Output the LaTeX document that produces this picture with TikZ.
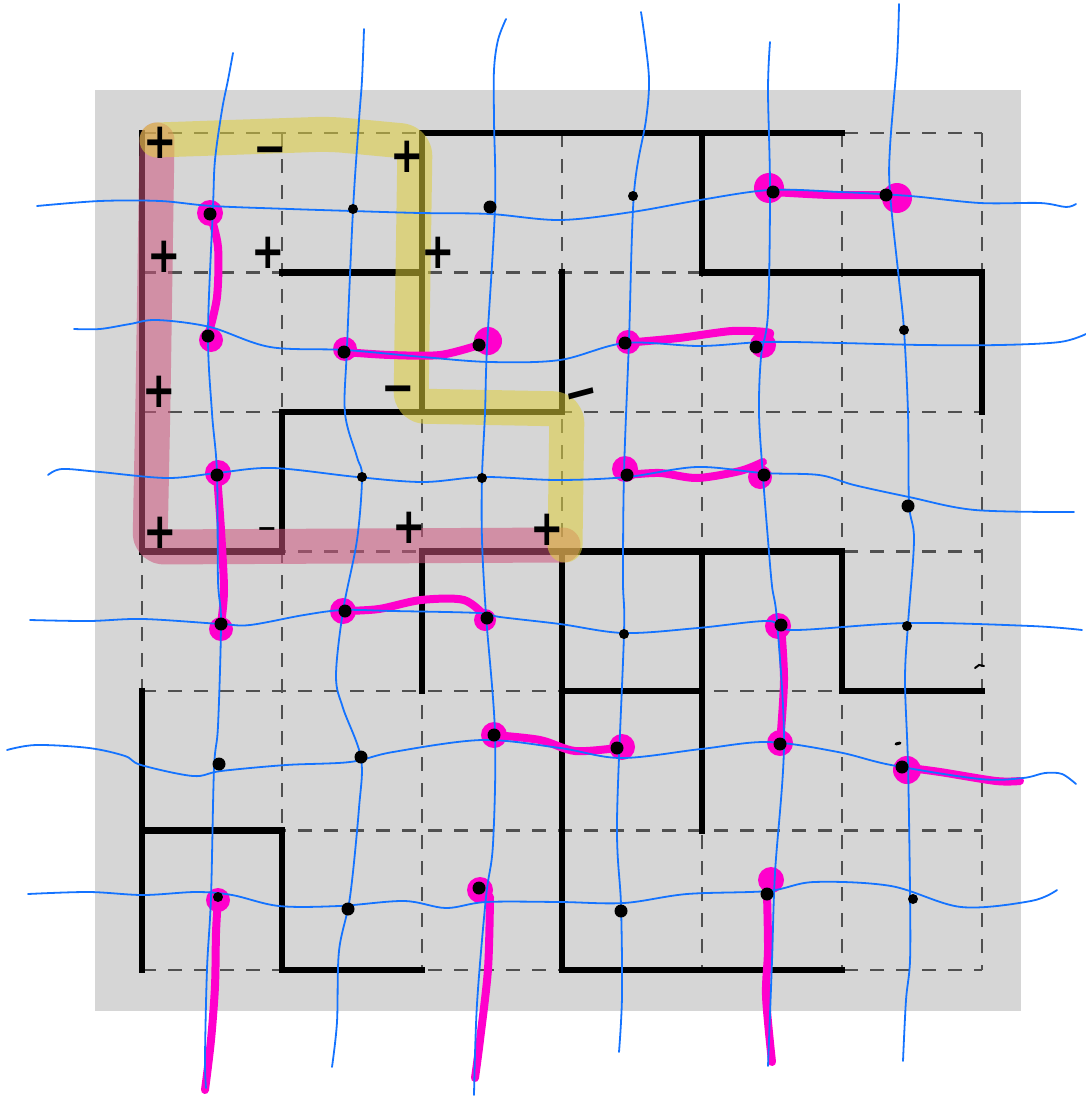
\documentclass[tikz,border=0pt]{standalone}
\usepackage{fontspec}
\newfontfamily\signfont{DejaVu Sans}
\definecolor{bggray}{RGB}{214,214,214}
\definecolor{gridgray}{RGB}{80,80,80}
\definecolor{penblue}{RGB}{20,115,255}
\definecolor{penmag}{RGB}{255,0,204}
\definecolor{hlyellow}{RGB}{222,206,60}
\definecolor{hlpink}{RGB}{205,85,125}
\begin{document}
\begin{tikzpicture}[x=1pt,y=-1pt,
  gridline/.style={draw=gridgray,line width=2.2pt,dash pattern=on 14pt off 12pt},
  wall/.style={draw=black,line width=6.5pt,line cap=rect,line join=miter},
  hl/.style={line width=35pt,line cap=round,line join=round,opacity=0.55,rounded corners=14pt},
  pen/.style={draw=penblue,line width=1.8pt,line cap=round},
  dimer/.style={draw=penmag,line width=8pt,line cap=round,line join=round},
  dot/.style={circle,inner sep=0pt,minimum size=12pt},
  blob/.style={fill=penmag},
  sign/.style={font=\signfont\bfseries\fontsize{40}{40}\selectfont,inner sep=0pt,yscale=1.25},
  ssign/.style={font=\signfont\bfseries\fontsize{24}{24}\selectfont,inner sep=0pt}]
\useasboundingbox (0,0) rectangle (1086,1097);
\fill[bggray] (95,90) rectangle (1021,1011);
% grid points
\foreach \i in {0,...,6}{\foreach \j in {0,...,6}{
  \coordinate (g\i\j) at ({142+140*\i},{133+139.5*\j});}}
% dashed grid
\foreach \i in {0,...,6}{
  \draw[gridline] (g\i0) -- (g\i6);
  \draw[gridline] (g0\i) -- (g6\i);}
% walls
\draw[wall] (g00) -- (g03) -- (g13) -- (g12) -- (g32) -- (g31);
\draw[wall] (g11) -- (g21);
\draw[wall] (g22) -- (g20) -- (g50);
\draw[wall] (g40) -- (g41) -- (g61) -- (g62);
\draw[wall] (g24) -- (g23) -- (g53) -- (g54) -- (g64);
\draw[wall] (g33) -- (g36) -- (g56);
\draw[wall] (g43) -- (g45);
\draw[wall] (g34) -- (g44);
\draw[wall] (g04) -- (g06);
\draw[wall] (g05) -- (g15) -- (g16) -- (g26);
% highlights
\draw[hl,draw=hlpink] (157,140) -- (153,400) -- (150,547) -- (563,545);
\draw[hl,draw=hlyellow] (157,140) -- (330,134) -- (415,142) -- (411,406) -- (567,409) -- (565,545);
% dots (named)
\node[dot] (d11) at (210,214) {};
\node[dot] (d12) at (353,209) {};
\node[dot] (d13) at (490,207) {};
\node[dot] (d14) at (633,196) {};
\node[dot] (d15) at (773,192) {};
\node[dot] (d16) at (886,195) {};
\node[dot] (d21) at (208,336) {};
\node[dot] (d22) at (344,352) {};
\node[dot] (d23) at (479,345) {};
\node[dot] (d24) at (625,343) {};
\node[dot] (d25) at (756,347) {};
\node[dot] (d26) at (904,330) {};
\node[dot] (d31) at (217,475) {};
\node[dot] (d32) at (362,477) {};
\node[dot] (d33) at (482,478) {};
\node[dot] (d34) at (627,475) {};
\node[dot] (d35) at (764,475) {};
\node[dot] (d36) at (908,506) {};
\node[dot] (d41) at (221,624) {};
\node[dot] (d42) at (345,611) {};
\node[dot] (d43) at (487,618) {};
\node[dot] (d44) at (624,634) {};
\node[dot] (d45) at (781,625) {};
\node[dot] (d46) at (907,626) {};
\node[dot] (d51) at (219,764) {};
\node[dot] (d52) at (361,757) {};
\node[dot] (d53) at (494,735) {};
\node[dot] (d54) at (617,748) {};
\node[dot] (d55) at (780,744) {};
\node[dot] (d56) at (902,767) {};
\node[dot] (d61) at (218,897) {};
\node[dot] (d62) at (348,909) {};
\node[dot] (d63) at (479,888) {};
\node[dot] (d64) at (621,911) {};
\node[dot] (d65) at (767,894) {};
\node[dot] (d66) at (913,899) {};
\coordinate (e56) at (1020,781);
\coordinate (e61) at (205,1090);
\coordinate (e63) at (475,1078);
\coordinate (e65) at (772,1062);
% magenta dimers
\draw[dimer] plot[smooth] coordinates {(d11.center) (218,247) (217,297) (d21.center)};
\draw[dimer] plot[smooth] coordinates {(d15.center) (830,195) (d16.center)};
\draw[dimer] plot[smooth] coordinates {(d22.center) (390,355) (440,355) (d23.center)};
\draw[dimer] plot[smooth,tension=0.4] coordinates {(d24.center) (679,338) (732,331) (770,333) (d25.center)};
\draw[dimer] plot[smooth] coordinates {(d31.center) (221,530) (224,590) (d41.center)};
\draw[dimer] plot[smooth] coordinates {(d34.center) (660,473) (697,478) (740,471) (763,462)};
\draw[dimer] plot[smooth] coordinates {(d42.center) (379,609) (421,600) (464,600) (d43.center)};
\draw[dimer] plot[smooth] coordinates {(d45.center) (784,680) (d55.center)};
\draw[dimer] plot[smooth] coordinates {(d53.center) (540,740) (575,751) (d54.center)};
\draw[dimer] plot[smooth] coordinates {(d56.center) (940,772) (996,781) (e56)};
\draw[dimer] plot[smooth] coordinates {(d61.center) (216,933) (215,986) (211,1040) (e61)};
\draw[dimer] plot[smooth] coordinates {(490,897) (488,969) (480,1040) (e63)};
\draw[dimer] plot[smooth] coordinates {(d65.center) (768,950) (766,996) (e65)};
% magenta blobs
\foreach \p/\r in {{(210,213)}/13,{(211,340)}/12,{(769,188)}/15,{(897,198)}/15,{(345,349)}/12,{(488,341)}/14,
  {(628,342)}/12,{(763,345)}/13,{(218,473)}/13,{(221,629)}/12,{(625,469)}/13,{(760,477)}/12,
  {(343,611)}/13,{(485,620)}/11,{(778,626)}/13,{(780,743)}/13,{(494,735)}/13,{(622,747)}/13,
  {(907,770)}/14,{(218,900)}/12,{(480,890)}/13,{(771,880)}/13}
  {\fill[blob] \p circle (\r pt);}
% blue pen lines
\draw[pen] plot[smooth,tension=0.55] coordinates {(37,206) (100,201) (160,201) (212,206) (290,209) (352,211) (420,213) (490,214) (560,220) (632,212) (700,200) (770,190) (840,192) (910,196) (980,203) (1040,203) (1066,207) (1076,204)};
\draw[pen] plot[smooth,tension=0.55] coordinates {(74,329) (100,329) (130,324) (157,320) (210,327) (270,347) (345,350) (423,357) (490,362) (560,360) (625,343) (700,346) (765,342) (840,343) (923,345) (1000,345) (1060,342) (1086,334)};
\draw[pen] plot[smooth,tension=0.55] coordinates {(48,475) (62,469) (100,472) (167,478) (217,473) (273,468) (357,477) (423,482) (483,477) (557,480) (627,477) (697,467) (763,473) (819,475) (854,485) (909,497) (975,510) (1074,512)};
\draw[pen] plot[smooth,tension=0.55] coordinates {(30,620) (89,621) (143,619) (221,624) (250,625) (304,615) (343,610) (393,611) (479,613) (500,617) (560,624) (624,633) (698,628) (768,621) (793,630) (908,623) (1031,626) (1082,630)};
\draw[pen] plot[smooth,tension=0.55] coordinates {(7,750) (36,745) (89,748) (125,756) (141,765) (193,776) (221,771) (286,765) (350,762) (393,752) (482,740) (560,748) (621,758) (701,749) (768,742) (838,752) (891,765) (980,779) (1023,778) (1045,773) (1062,774) (1076,784)};
\draw[pen] plot[smooth,tension=0.55] coordinates {(28,894) (89,892) (143,895) (196,892) (232,895) (279,906) (339,906) (404,901) (446,908) (486,902) (560,902) (624,903) (687,894) (768,891) (814,882) (891,886) (961,907) (1031,901) (1057,890)};
\draw[pen] plot[smooth,tension=0.55] coordinates {(233,53) (228,80) (222,110) (215,160) (213,207) (208,333) (212,413) (217,473) (218,580) (221,622) (218,726) (214,769) (211,897) (207,969) (205,1058) (206,1088)};
\draw[pen] plot[smooth,tension=0.55] coordinates {(364,29) (362,80) (359,120) (353,210) (347,347) (345,413) (357,457) (362,477) (357,540) (343,611) (336,676) (343,708) (361,758) (359,808) (350,897) (339,951) (337,1022) (332,1067)};
\draw[pen] plot[smooth,tension=0.55] coordinates {(506,19) (498,40) (494,70) (494,120) (495,207) (487,347) (485,413) (482,477) (482,540) (486,615) (495,733) (493,844) (486,897) (477,1004) (474,1095)};
\draw[pen] plot[smooth,tension=0.55] coordinates {(641,12) (645,40) (649,80) (646,120) (634,193) (629,340) (624,473) (623,580) (624,633) (617,821) (621,905) (622,996) (619,1052)};
\draw[pen] plot[smooth,tension=0.55] coordinates {(770,42) (768,90) (770,190) (768,313) (761,357) (759,413) (763,477) (768,540) (772,586) (777,621) (784,744) (775,873) (772,961) (768,1066)};
\draw[pen] plot[smooth,tension=0.55] coordinates {(899,4) (897,60) (890,147) (890,193) (899,280) (904,330) (908,413) (909,503) (914,540) (908,624) (905,680) (908,765) (910,891) (910,961) (906,1000) (903,1061)};
% black dots on top
\foreach \n in {11,13,15,16,21,22,23,24,25,31,34,35,36,41,42,43,45,51,52,53,54,55,56,62,63,64,65}
  {\fill[black] (d\n.center) circle (6.5pt);}
\foreach \n in {12,14,26,32,33,44,46,61,66}
  {\fill[black] (d\n.center) circle (5pt);}
% stray pen marks
\draw[line width=2pt,line cap=round] (975,668) -- (979,665) -- (984,666);
\draw[line width=3pt,line cap=round] (896,744) -- (900,743);
% signs
\node[sign] (s1) at (160,143) {+};
\node[sign] (s2) at (270,156) {−};
\node[sign] (s3) at (407,157) {+};
\node[sign] (s4) at (164,257) {+};
\node[sign] (s5) at (268,253) {+};
\node[sign] (s6) at (438,253) {+};
\node[sign] (s7) at (159,392) {+};
\node[sign] (s8) at (398,395) {−};
\node[sign,rotate=12] (s9) at (582,400) {−};
\node[sign] (s10) at (160,533) {+};
\node[ssign] (s11) at (267,532) {−};
\node[sign] (s12) at (409,528) {+};
\node[sign] (s13) at (547,530) {+};
\end{tikzpicture}
\end{document}
